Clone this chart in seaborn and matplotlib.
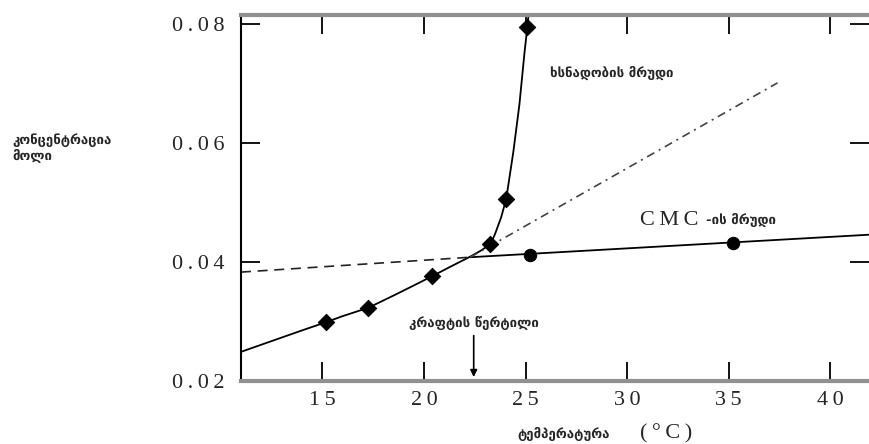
import matplotlib
matplotlib.use("Agg")
import matplotlib.pyplot as plt
import seaborn as sns
import pandas as pd

# solubility curve
sol_x = [11, 12, 13, 14, 15.2, 16, 17.26, 18.5, 19.5, 20.4, 21.3, 22.28, 22.8, 23.27,
         23.5, 23.8, 24.05, 24.4, 24.7, 24.95, 25.09, 25.15]
sol_y = [0.0249, 0.0261, 0.0273, 0.0285, 0.0299, 0.0309, 0.0323, 0.03435, 0.03605, 0.0376,
         0.0392, 0.0409, 0.0419, 0.0430, 0.0447, 0.0475, 0.0506, 0.0585, 0.0665, 0.0752,
         0.0795, 0.0815]

# measured points
sol_pts_x = [15.2, 17.26, 20.4, 23.27, 24.05, 25.09]
sol_pts_y = [0.0299, 0.0323, 0.0376, 0.0430, 0.0506, 0.0795]
cmc_pts_x = [25.2, 35.2]
cmc_pts_y = [0.0412, 0.0432]

# CMC line and its extrapolations
cmc_x = [22.28, 42]
cmc_y = [0.0408, 0.0446]
cmc_ext_x = [11, 22.28]
cmc_ext_y = [0.0383, 0.0408]
sol_ext_x = [22.28, 37.4]
sol_ext_y = [0.0408, 0.0701]

krafft_x = 22.45

x_ticks = [15, 20, 25, 30, 35, 40]
x_tick_labels = ["15", "20", "25", "30", "35", "40"]
y_ticks = [0.02, 0.04, 0.06, 0.08]
y_tick_labels = ["0.02", "0.04", "0.06", "0.08"]


def spaced(s):
    # wide letter spacing like the scanned labels
    return "\u2009".join(s)


sns.set_style("white")
plt.rcParams['font.family'] = ['Liberation Serif', 'DejaVu Serif']

fig = plt.figure(figsize=(8.69, 4.44), dpi=100)
ax = fig.add_axes([241 / 869, 1 - 381 / 444, 1 - 241 / 869, (381 - 15) / 444])

sol = pd.DataFrame({'x': sol_x, 'y': sol_y})
sns.lineplot(data=sol, x='x', y='y', sort=False, estimator=None, color='black', lw=1.3, ax=ax)
sns.lineplot(x=cmc_x, y=cmc_y, sort=False, estimator=None, color='black', lw=1.3, ax=ax)
ax.plot(cmc_ext_x, cmc_ext_y, color='#222222', lw=1.2, ls=(0, (6, 4)))
ax.plot(sol_ext_x, sol_ext_y, color='#444444', lw=1.2, ls=(0, (5, 3, 1.2, 3)))

sns.scatterplot(x=sol_pts_x, y=sol_pts_y, marker='D', s=70, color='black', edgecolor='black', ax=ax, zorder=5)
sns.scatterplot(x=cmc_pts_x, y=cmc_pts_y, marker='o', s=80, color='black', edgecolor='black', ax=ax, zorder=5)

ax.set_xlim(11, 41.9)
ax.set_ylim(0.02, 0.0815)
ax.set_xticks(x_ticks)
ax.set_xticklabels([spaced(t) for t in x_tick_labels])
ax.set_yticks(y_ticks)
ax.set_yticklabels([spaced(t) for t in y_tick_labels])
ax.set_xlabel('')
ax.set_ylabel('')
ax.tick_params(direction='in', length=14, width=1.3, color='black', labelsize=16,
               top=True, right=True, bottom=True, left=True, pad=7)
ax.tick_params(axis='y', pad=12)

ax.spines['right'].set_visible(False)
ax.spines['left'].set_color('black')
ax.spines['left'].set_linewidth(1.5)
for side in ['top', 'bottom']:
    ax.spines[side].set_color('#909090')
    ax.spines[side].set_linewidth(3)

geo = ['DejaVu Sans']
gs = 9.5
ax.text(26.2, 0.0718, 'ხსნადობის მრუდი', fontsize=gs, family=geo, weight='bold', va='center')
ax.text(30.65, 0.0469, spaced('CMC'), fontsize=16, va='center')
ax.text(33.9, 0.0471, '-ის მრუდი', fontsize=gs, family=geo, weight='bold', va='center')
ax.text(krafft_x, 0.0297, 'კრაფტის წერტილი', fontsize=gs, family=geo, weight='bold',
        ha='center', va='center')
ax.annotate('', xy=(krafft_x, 0.0202), xytext=(krafft_x, 0.0281),
            arrowprops=dict(arrowstyle='-|>', color='black', lw=1.2, mutation_scale=10))

fig.text(517 / 869, 1 - 434 / 444, 'ტემპერატურა', fontsize=gs, family=geo, weight='bold', va='center')
fig.text(640 / 869, 1 - 434 / 444, spaced('(°C)'), fontsize=16, va='center')
fig.text(12 / 869, 1 - 148 / 444, 'კონცენტრაცია\nმოლი', fontsize=gs, family=geo, weight='bold',
         va='center', linespacing=1.1)

fig.savefig('out.png', dpi=100)
